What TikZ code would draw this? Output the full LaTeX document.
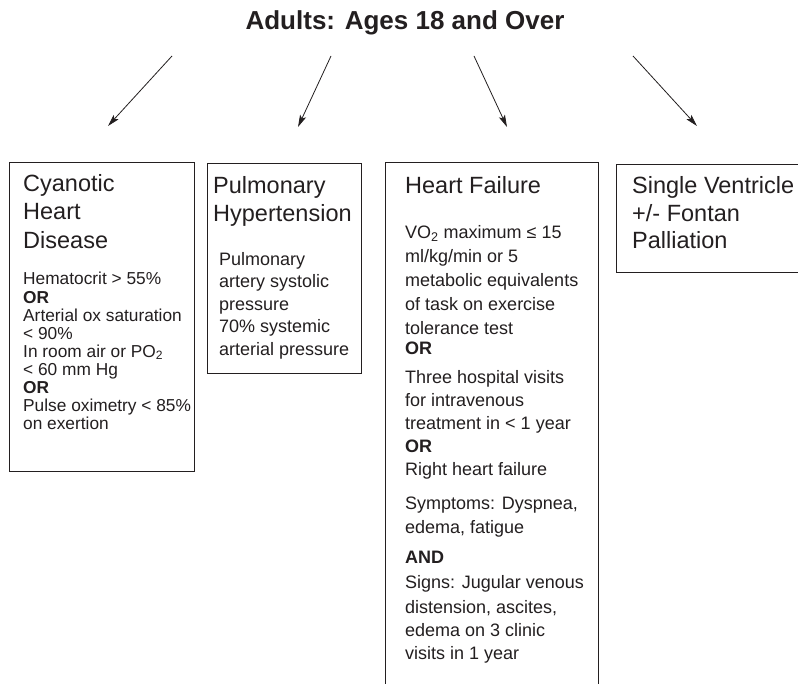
\documentclass[tikz,border=0pt]{standalone}
\usepackage{fontspec}
\setmainfont{Liberation Sans}
\usetikzlibrary{arrows.meta}
\definecolor{ink}{HTML}{231F20}

\begin{document}
\begin{tikzpicture}[x=1pt,y=-1pt,
  frame/.style={draw=ink, line width=1.1pt, inner sep=0pt, anchor=north west},
  title/.style={anchor=base, inner sep=0pt, text=ink, font=\fontsize{26}{30}\selectfont\bfseries},
  head/.style={anchor=base west, inner sep=0pt, text=ink, font=\fontsize{23.5}{28}\selectfont},
  small/.style={anchor=base west, inner sep=0pt, text=ink, font=\fontsize{17.3}{18}\selectfont},
  body/.style={anchor=base west, inner sep=0pt, text=ink, font=\fontsize{18}{22}\selectfont},
  link/.style={draw=ink, line width=0.8pt, -{Stealth[length=12pt,width=6.5pt,inset=2.5pt]}}]

\useasboundingbox (0,0) rectangle (798,684);
\fill[white] (0,0) rectangle (798,684);
\clip (0,0) rectangle (798,684);

% heading
\node[title] (top) at (405,30) {Adults: Ages 18 and Over};

% the four category boxes
\node[frame, minimum width=185pt, minimum height=309pt] (cyan) at (9,162) {};
\node[frame, minimum width=154pt, minimum height=210pt] (pulm) at (207,163) {};
\node[frame, minimum width=213pt, minimum height=540pt] (hf) at (385,162) {};
\node[frame, minimum width=200pt, minimum height=108pt] (sv) at (616,164) {};

% arrows fanning out below the heading
\coordinate (a1s) at (172,56);  \coordinate (a1e) at (108,126);
\coordinate (a2s) at (331,56);  \coordinate (a2e) at (298,127);
\coordinate (a3s) at (474,56);  \coordinate (a3e) at (507,127);
\coordinate (a4s) at (633,56);  \coordinate (a4e) at (697,126);
\draw[link] (a1s) -- (a1e);
\draw[link] (a2s) -- (a2e);
\draw[link] (a3s) -- (a3e);
\draw[link] (a4s) -- (a4e);

% Cyanotic heart disease
\foreach \yy/\lbl [count=\k] in {191.5/Cyanotic, 220/Heart, 248.5/Disease}
  \node[head] (cyh\k) at (23,\yy) {\lbl};
\foreach \yy/\lbl [count=\k] in {
   285/{Hematocrit > 55\%},
   303.1/{\textbf{OR}},
   321.2/{Arterial ox saturation},
   339.3/{< 90\%},
   357.4/{In room air or PO\textsubscript{2}},
   375.5/{< 60 mm Hg},
   393.6/{\textbf{OR}},
   411.7/{Pulse oximetry < 85\%},
   429.8/{on exertion}}
  \node[small] (cyb\k) at (23,\yy) {\lbl};

% Pulmonary hypertension
\foreach \yy/\lbl [count=\k] in {193.5/Pulmonary, 221.5/Hypertension}
  \node[head] (pmh\k) at (213,\yy) {\lbl};
\foreach \yy/\lbl [count=\k] in {
   265.5/{Pulmonary},
   288/{artery systolic},
   310.5/{pressure},
   333/{70\% systemic},
   355.5/{arterial pressure}}
  \node[body] (pmb\k) at (219,\yy) {\lbl};

% Heart failure
\node[head] (hfh) at (405,193.5) {Heart Failure};
\foreach \yy/\lbl [count=\k] in {
   238.5/{VO\textsubscript{2} maximum ≤ 15},
   263/{ml/kg/min or 5},
   287/{metabolic equivalents},
   310.5/{of task on exercise},
   334.5/{tolerance test},
   354.5/{\textbf{OR}},
   383.5/{Three hospital visits},
   406.5/{for intravenous},
   429.5/{treatment in < 1 year},
   452.5/{\textbf{OR}},
   475.5/{Right heart failure},
   509.5/{Symptoms: Dyspnea,},
   533.5/{edema, fatigue},
   563.5/{\textbf{AND}},
   588.5/{Signs: Jugular venous},
   613/{distension, ascites,},
   636.5/{edema on 3 clinic},
   659.5/{visits in 1 year}}
  \node[body] (hfb\k) at (405,\yy) {\lbl};

% Single ventricle
\foreach \yy/\lbl [count=\k] in {193.5/{Single Ventricle}, 221.5/{+/- Fontan}, 249/{Palliation}}
  \node[head] (svh\k) at (632,\yy) {\lbl};

\end{tikzpicture}
\end{document}
